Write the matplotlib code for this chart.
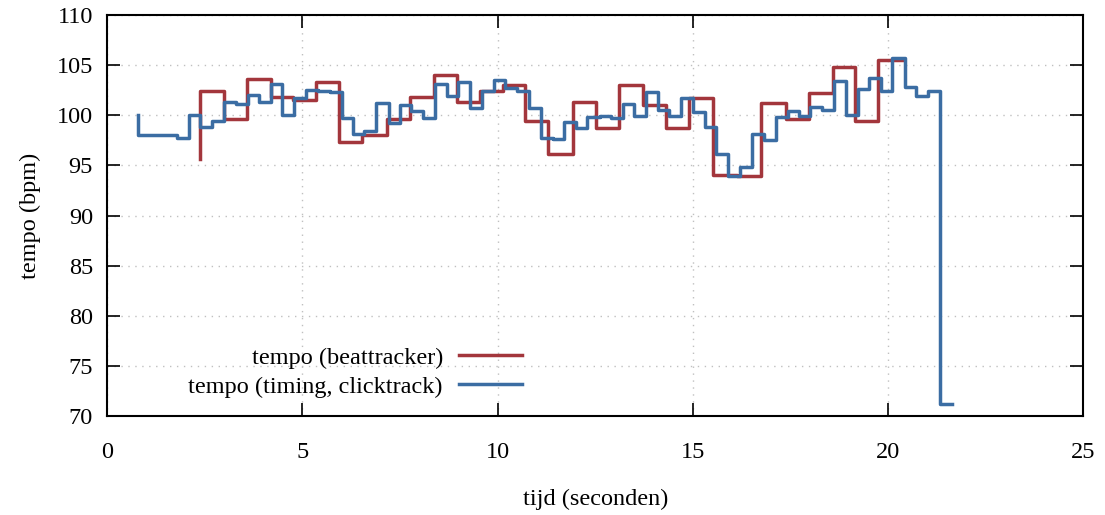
import numpy as np
import matplotlib
matplotlib.use("Agg")
import matplotlib.pyplot as plt

plt.rcParams['font.family'] = ['Liberation Serif', 'DejaVu Serif']

# beattracker: tijd (s) en tempo (bpm), steps-pre (fsteps)
beat_t = [2.37, 3.00, 3.59, 4.20, 4.77, 5.35, 5.95, 6.54, 7.16, 7.76,
          8.36, 8.96, 9.54, 10.13, 10.71, 11.30, 11.92, 12.53, 13.12, 13.72,
          14.30, 14.91, 15.51, 16.12, 16.74, 17.38, 17.98, 18.58, 19.16, 19.74,
          20.40]
beat_bpm = [95.6, 102.4, 99.6, 103.6, 101.8, 101.5, 103.3, 97.3, 98.0, 99.6,
            101.8, 104.0, 101.3, 102.4, 103.0, 99.4, 96.1, 101.3, 98.7, 103.0,
            101.0, 98.7, 101.7, 94.0, 93.9, 101.2, 99.6, 102.2, 104.8, 99.4,
            105.5]

# timing / clicktrack
click_t = [0.79, 1.80, 2.09, 2.38, 2.70, 3.00, 3.30, 3.60, 3.90, 4.20,
           4.49, 4.80, 5.10, 5.41, 5.71, 6.01, 6.29, 6.59, 6.90, 7.21,
           7.50, 7.79, 8.10, 8.41, 8.70, 9.00, 9.30, 9.60, 9.90, 10.18,
           10.51, 10.81, 11.11, 11.42, 11.71, 12.00, 12.30, 12.61, 12.91, 13.21,
           13.50, 13.81, 14.11, 14.40, 14.70, 15.00, 15.30, 15.60, 15.91, 16.21,
           16.52, 16.83, 17.13, 17.43, 17.72, 18.01, 18.31, 18.62, 18.92, 19.22,
           19.52, 19.82, 20.10, 20.42, 20.72, 21.01, 21.32, 21.64]
click_bpm = [100.0, 98.0, 97.7, 100.0, 98.8, 99.4, 101.3, 101.1, 102.0, 101.3,
             103.1, 100.0, 101.7, 102.5, 102.4, 102.3, 99.7, 98.1, 98.4, 101.2,
             99.2, 101.0, 100.4, 99.7, 103.1, 101.9, 103.3, 100.7, 102.4, 103.5,
             102.7, 102.4, 100.7, 97.7, 97.6, 99.3, 98.7, 99.8, 99.9, 99.7,
             101.1, 99.9, 102.3, 100.5, 99.9, 101.7, 100.3, 98.8, 96.1, 93.9,
             94.8, 98.1, 97.5, 99.8, 100.4, 99.9, 100.8, 100.5, 103.4, 100.0,
             102.6, 103.7, 102.4, 105.7, 102.8, 101.9, 102.4, 71.2]

fig = plt.figure(figsize=(11.05, 5.15), dpi=100)
ax = fig.add_axes([0.0968, 0.1922, 0.8837, 0.7787])

ax.plot(beat_t, beat_bpm, drawstyle='steps-pre', color='#a3363c', lw=2.5,
        label='tempo (beattracker)')
ax.plot(click_t, click_bpm, drawstyle='steps-pre', color='#3b6da3', lw=2.5,
        label='tempo (timing, clicktrack)')

ax.set_xlim(0, 25)
ax.set_ylim(70, 110)
ax.set_xticks(np.arange(0, 26, 5))
ax.set_yticks(np.arange(70, 111, 5))
ax.grid(True, linestyle=(0, (1, 4)), color='#c0c0c0', lw=1.0)
ax.tick_params(direction='in', length=9.5, width=1.2, top=True, right=True,
               labelsize=17.5)
ax.tick_params(axis='y', pad=10)
ax.tick_params(axis='x', pad=19)
for s in ax.spines.values():
    s.set_linewidth(1.5)

ax.set_xlabel('tijd (seconden)', fontsize=17.5, labelpad=18)
ax.set_ylabel('tempo (bpm)', fontsize=17.5, labelpad=11)

ax.legend(loc='lower right', bbox_to_anchor=(0.425, 0.045), frameon=False,
          markerfirst=False, fontsize=17.5, handlelength=2.6,
          handletextpad=0.65, labelspacing=0.3, borderpad=0, borderaxespad=0)

fig.savefig('out.png', dpi=100)
